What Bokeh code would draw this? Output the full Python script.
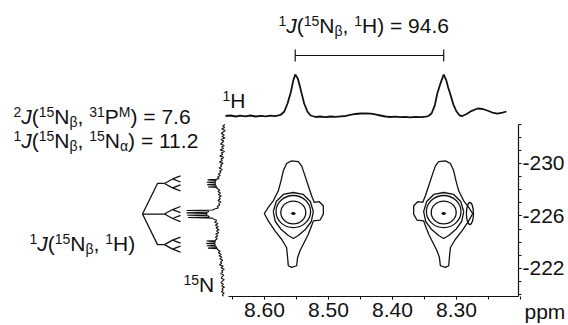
from bokeh.plotting import figure
from bokeh.models import Range1d, LinearAxis, FixedTicker, PrintfTickFormatter, ColumnDataSource
from bokeh.core.properties import value, field
from bokeh.embed import file_html
from bokeh.resources import INLINE

# ---------------- data ----------------
H_TICKS = [8.60, 8.50, 8.40, 8.30]
H_MINOR = [8.65, 8.60, 8.55, 8.50, 8.45, 8.40, 8.35, 8.30, 8.25, 8.20]
N_TICKS = [-230, -226, -222]
N_MINOR = [-233, -232, -231, -230, -229, -228, -227, -226, -225, -224, -223, -222, -221, -220]

J_NH = 94.6
J_NP = 7.6
J_NN = 11.2

H_DOUBLET_PPM = [8.552, 8.320]                 # 1H doublet lines (1D trace)
N_MULT_CENTERS = [-228.48, -226.15, -223.82]   # 15N triplet components

# 1H 1D trace (ppm, intensity %)
H_TRACE_PPM = [8.661, 8.653, 8.645, 8.638, 8.630, 8.622, 8.614, 8.606, 8.598, 8.591, 8.583, 8.575,
               8.569, 8.564, 8.559, 8.555, 8.552, 8.548, 8.545, 8.542, 8.538, 8.533, 8.528, 8.520,
               8.513, 8.505, 8.497, 8.489, 8.481, 8.473, 8.466, 8.458, 8.450, 8.442, 8.434, 8.427,
               8.419, 8.411, 8.403, 8.395, 8.388, 8.380, 8.372, 8.364, 8.356, 8.348, 8.344, 8.339,
               8.334, 8.330, 8.325, 8.320, 8.316, 8.313, 8.309, 8.305, 8.300, 8.295, 8.291, 8.284,
               8.277, 8.267, 8.259, 8.252, 8.244, 8.236, 8.228, 8.222]
H_TRACE_INT = [1.2, 2.4, 0.0, 1.9, 0.5, 2.4, 0.0, 1.7, 0.2, 1.9, 1.0, 3.6,
               11.9, 31, 57, 86, 100, 90.5, 74, 55, 31, 11.9, 2.4, -1.2,
               0.0, -1.4, 0.0, -1.0, 0.5, 1.2, 3.6, 6.0, 7.1, 7.6, 6.7, 4.8,
               2.4, 0.0, -1.2, -0.5, -1.7, -0.7, -1.9, -1.0, -1.4, -0.5, 1.2, 7.1,
               26, 55, 79, 100, 86, 69, 50, 29, 11.9, 2.4, 1.2, 6.0,
               13, 19, 17.9, 14.3, 9.5, 7.1, 9.5, 11.9]

# 15N 1D trace (ppm, intensity %)
N_TRACE_PPM = [-232.97, -232.86, -232.74, -232.63, -232.51, -232.40, -232.29, -232.17, -232.06, -231.94,
               -231.83, -231.72, -231.60, -231.49, -231.37, -231.26, -231.15, -231.03, -230.92, -230.80,
               -230.69, -230.58, -230.46, -230.35, -230.23, -230.12, -230.01, -229.89, -229.78, -229.66,
               -229.55, -229.44, -229.32, -229.21, -229.09, -228.98, -228.86,
               -228.79, -228.75, -228.71, -228.61, -228.57, -228.53, -228.43, -228.39, -228.35, -228.25,
               -228.21, -228.17,
               -228.10, -227.98, -227.87, -227.75, -227.64, -227.53, -227.41, -227.30, -227.18, -227.07,
               -226.96, -226.84, -226.73, -226.61, -226.54,
               -226.46, -226.42, -226.38, -226.28, -226.24, -226.20, -226.10, -226.06, -226.02,
               -225.92, -225.88, -225.84,
               -225.76, -225.65, -225.53, -225.42, -225.30, -225.19, -225.08, -224.96, -224.85, -224.73,
               -224.62, -224.50, -224.39, -224.27, -224.19,
               -224.13, -224.09, -224.05, -223.95, -223.91, -223.87, -223.77, -223.73,
               -223.69, -223.59, -223.55, -223.51,
               -223.43, -223.32, -223.20, -223.09, -222.97, -222.86, -222.75, -222.63, -222.52, -222.40,
               -222.29, -222.18, -222.06, -221.95, -221.83, -221.72, -221.61, -221.49, -221.38, -221.26,
               -221.15, -221.04, -220.92, -220.81, -220.69, -220.58, -220.47, -220.35, -220.24, -220.12,
               -220.01, -219.89]
N_TRACE_INT = [-4, 2, -3, 5, -5, 1, 6, -2, 4, -4,
               7, -1, 3, 8, -2, 5, 0, 9, -3, 6,
               2, 10, -1, 7, 3, 11, 1, 8, 5, 12,
               3, 10, 7, 14, 9, 16, 12,
               20, 43, 20, 22, 45, 22, 22, 44, 21, 19,
               42, 17,
               18, 10, 15, 8, 14, 6, 12, 9, 15, 7,
               13, 10, 17, 14, 24,
               30, 100, 40, 42, 100, 45, 45, 98, 42,
               38, 96, 30,
               26, 18, 24, 15, 22, 14, 20, 12, 19, 13,
               21, 15, 22, 17, 21,
               22, 46, 22, 24, 47, 23, 22, 45,
               21, 18, 42, 16,
               16, 9, 14, 6, 12, 4, 10, 2, 8, 5,
               11, 1, 7, -2, 5, 2, 8, -1, 4, 6,
               -2, 3, 7, 0, 5, -3, 4, 1, 6, -2,
               3, 0]

# 2D cross peaks (centres) and contour outlines (offsets in ppm, left peak; mirrored for right)
XPK_H = [8.555, 8.320]
XPK_N = [-226.19, -226.19]
CONT_D_DH = [0.0027, -0.0078, -0.0130, -0.0183, -0.0234, -0.0286, -0.0328, -0.0402, -0.0469, -0.0469,
             -0.0417, -0.0313, -0.0286, -0.0234, -0.0156, -0.0105, -0.0067, -0.0052, 0.0027, 0.0078,
             0.0089, 0.0105, 0.0183, 0.0286, 0.0391, 0.0453, 0.0391, 0.0313, 0.0234, 0.0192, 0.0156, 0.0105]
CONT_D_DN = [-4.01, -3.96, -3.63, -2.87, -2.11, -1.35, -0.84, -0.91, -0.59, 0.05,
             0.51, 0.56, 0.94, 1.58, 2.34, 2.84, 3.35, 3.98, 4.11, 3.98,
             3.35, 2.59, 1.96, 1.32, 0.56, 0.0, -0.46, -0.97, -1.73, -2.49, -3.25, -3.81]
CONT_C_DH = [0.0313, 0.0266, 0.0156, 0.0, -0.0156, -0.0266, -0.0313, -0.0281, -0.0188, -0.0078,
             0.0, 0.0078, 0.0188, 0.0281]
CONT_C_DN = [-0.15, -0.91, -1.45, -1.60, -1.45, -0.91, -0.15, 0.61, 1.22, 1.68,
             1.90, 1.68, 1.22, 0.61]
RING_W = [0.054, 0.039, 0.006]   # ppm (1H) widths of inner contours
RING_H = [2.44, 1.74, 0.15]      # ppm (15N) heights of inner contours
RING_DN = [-0.15, -0.08, 0.0]
# small isolated contour beside the right-hand cross peak
ISLAND_H = [8.279]
ISLAND_N = [-226.19]
ISLAND_W = [0.011]
ISLAND_HT = [1.68]

# ---------------- layout ----------------
W_PX, H_PX = 568, 325
PX_PER_PPM_H = 640.0
PX_PER_PPM_N = 13.125
X_LEFT = 9.0125
Y_TOP = -242.419


def hx(px):
    return X_LEFT - px / PX_PER_PPM_H


def ny(py):
    return Y_TOP + py / PX_PER_PPM_N


p = figure(width=W_PX, height=H_PX,
           x_range=Range1d(X_LEFT, hx(W_PX)),
           y_range=Range1d(ny(H_PX), Y_TOP),
           output_backend="svg", toolbar_location=None, min_border=0,
           x_axis_location=None, y_axis_location=None,
           outline_line_color=None, background_fill_color="white", border_fill_color="white")
p.grid.visible = False

FONT = "Liberation Sans"
INK = "#111111"

xaxis = LinearAxis(fixed_location=ny(296), bounds=(hx(518), hx(228)),
                   ticker=FixedTicker(ticks=H_TICKS, minor_ticks=H_MINOR),
                   formatter=PrintfTickFormatter(format="%.2f"))
yaxis = LinearAxis(fixed_location=hx(518), bounds=(ny(124), ny(296)),
                   ticker=FixedTicker(ticks=N_TICKS, minor_ticks=N_MINOR),
                   formatter=PrintfTickFormatter(format="%d"))
for ax in (xaxis, yaxis):
    ax.axis_line_color = INK
    ax.axis_line_width = 1.2
    ax.major_tick_line_color = INK
    ax.minor_tick_line_color = INK
    ax.major_tick_in = 0
    ax.major_tick_out = 3
    ax.minor_tick_in = 0
    ax.minor_tick_out = 3
    ax.major_label_text_font = FONT
    ax.major_label_text_color = INK
    ax.major_label_text_font_size = "21px"
xaxis.major_label_standoff = 3
yaxis.major_label_standoff = 1
p.add_layout(xaxis, "below")
p.add_layout(yaxis, "right")

# 1H trace
H_BASE = ny(116)
H_SCALE = 42 / PX_PER_PPM_N
p.line(H_TRACE_PPM, [H_BASE - v / 100 * H_SCALE for v in H_TRACE_INT], line_color=INK, line_width=1.8)

# 15N trace
N_BASE = hx(223)
N_SCALE = 37 / PX_PER_PPM_H
p.line([N_BASE + v / 100 * N_SCALE for v in N_TRACE_INT], N_TRACE_PPM, line_color=INK, line_width=1.1)

# contours
xs, ys = [], []
for k, (ch, cn) in enumerate(zip(XPK_H, XPK_N)):
    sgn = 1 if k == 0 else -1
    for dh, dn in ((CONT_D_DH, CONT_D_DN), (CONT_C_DH, CONT_C_DN)):
        xs.append([ch + sgn * d for d in dh] + [ch + sgn * dh[0]])
        ys.append([cn + d for d in dn] + [cn + dn[0]])
p.multi_line(xs, ys, line_color=INK, line_width=1.3)
for w, h, dn in zip(RING_W[:2], RING_H[:2], RING_DN[:2]):
    p.ellipse(XPK_H, [c + dn for c in XPK_N], width=w, height=h,
              fill_color=None, line_color=INK, line_width=1.3)
p.ellipse(XPK_H, XPK_N, width=RING_W[2], height=RING_H[2], fill_color=INK, line_color=INK)
p.ellipse(ISLAND_H, ISLAND_N, width=ISLAND_W, height=ISLAND_HT, fill_color=None, line_color=INK, line_width=1.3)

# bracket for 1J(N,H)
BR_Y = ny(55)
BR_T = 6 / PX_PER_PPM_N
p.segment(x0=[H_DOUBLET_PPM[0], H_DOUBLET_PPM[0], H_DOUBLET_PPM[1]],
          y0=[BR_Y, BR_Y - BR_T, BR_Y - BR_T],
          x1=[H_DOUBLET_PPM[1], H_DOUBLET_PPM[0], H_DOUBLET_PPM[1]],
          y1=[BR_Y, BR_Y + BR_T, BR_Y + BR_T], line_color=INK, line_width=1.2)

# splitting tree
HZ_PX = 0.8
tx0, tx1, tx2, tx3, tx4 = hx(142), hx(157), hx(164), hx(172), hx(180)
root = N_MULT_CENTERS[1]
t_xs, t_ys = [], []
for c in N_MULT_CENTERS:
    t_xs.append([tx0, tx1, tx2]); t_ys.append([root, c, c])
    for s1 in (-1, 1):
        y1 = c + s1 * J_NN / 2 * HZ_PX / PX_PER_PPM_N
        t_xs.append([tx2, tx3]); t_ys.append([c, y1])
        for s2 in (-1, 1):
            y2 = y1 + s2 * J_NP / 2 * HZ_PX / PX_PER_PPM_N
            t_xs.append([tx3, tx4]); t_ys.append([y1, y2])
p.multi_line(t_xs, t_ys, line_color=INK, line_width=1.3)

# ---------------- rich text labels ----------------
CW = {' ': 0.278, '(': 0.333, ')': 0.333, ',': 0.278, '.': 0.278, '=': 0.584, 'J': 0.5,
      'N': 0.722, 'H': 0.722, 'P': 0.667, 'M': 0.833, 'p': 0.556, 'm': 0.833,
      'β': 0.575, 'α': 0.579, '-': 0.333}
for d in '0123456789':
    CW[d] = 0.556
F_MAIN, F_SCRIPT, SUP_RAISE, SUB_DROP = 21, 14, 6.5, 3.5
BASE_SHIFT = 0.33   # the text glyph sits this many em below the requested baseline
rows = dict(x=[], y=[], text=[], size=[], style=[])


def rich(px, base_py, segs, fmain=F_MAIN):
    x = px
    fs = round(fmain * F_SCRIPT / F_MAIN)
    for txt, kind in segs:
        size = fmain if kind in ('n', 'i') else fs
        dy = -SUP_RAISE if kind == 'sup' else (SUB_DROP if kind == 'sub' else 0)
        rows['x'].append(hx(x)); rows['y'].append(ny(base_py + dy - BASE_SHIFT * size))
        rows['text'].append(txt)
        rows['size'].append(f"{size}px"); rows['style'].append('italic' if kind == 'i' else 'normal')
        x += sum(CW[ch] for ch in txt) * size


NB = [("15", "sup"), ("N", "n"), ("β", "sub")]
rich(278, 32, [("1", "sup"), ("J", "i"), ("(", "n")] + NB + [(", ", "n"), ("1", "sup"), (f"H) = {J_NH}", "n")])
rich(13, 123, [("2", "sup"), ("J", "i"), ("(", "n")] + NB + [(", ", "n"), ("31", "sup"), ("P", "n"), ("M", "sup"), (f") = {J_NP}", "n")])
rich(13, 147, [("1", "sup"), ("J", "i"), ("(", "n")] + NB + [(", ", "n"), ("15", "sup"), ("N", "n"), ("α", "sub"), (f") = {J_NN}", "n")])
rich(29, 250, [("1", "sup"), ("J", "i"), ("(", "n")] + NB + [(", ", "n"), ("1", "sup"), ("H)", "n")])
rich(183, 291, [("15", "sup"), ("N", "n")])
rich(222, 107, [("1", "sup"), ("H", "n")])
rich(524, 318, [("ppm", "n")])

p.text(x="x", y="y", text="text", source=ColumnDataSource(rows),
       text_font=value(FONT), text_font_size=field("size"), text_font_style=field("style"),
       text_baseline="alphabetic", text_align="left", text_color=INK)

open("out.html", "w").write(file_html(p, INLINE))
